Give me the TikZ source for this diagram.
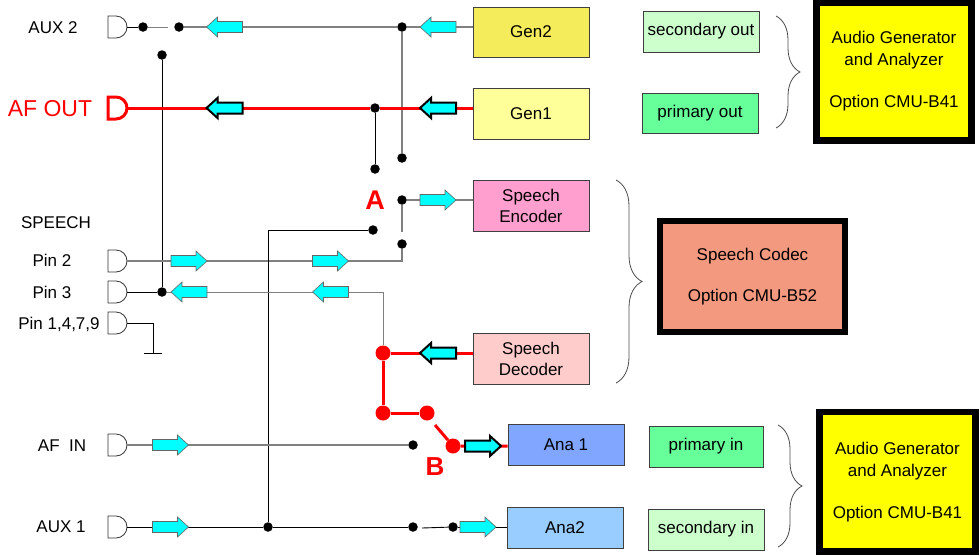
\documentclass[tikz,border=0pt]{standalone}
\usepackage{fontspec}
\setmainfont{Liberation Sans}
\usetikzlibrary{decorations.pathreplacing}

\definecolor{gentwo}{HTML}{F5EC5C}
\definecolor{genone}{HTML}{FFFF99}
\definecolor{secfill}{HTML}{CCFFCC}
\definecolor{primfill}{HTML}{66FF99}
\definecolor{encfill}{HTML}{FF9FCF}
\definecolor{decfill}{HTML}{FFCCCC}
\definecolor{codecfill}{HTML}{F2997F}
\definecolor{anaone}{HTML}{80A6FF}
\definecolor{anatwo}{HTML}{99CCFF}
\definecolor{sigcyan}{RGB}{0,255,255}
\definecolor{optyellow}{RGB}{255,255,0}
\definecolor{signalred}{RGB}{255,0,0}

\NewDocumentCommand{\sigarrow}{mmmO{thinarrow}}{%
\begin{scope}[shift={(#1,#2)},xscale=#3]%
\draw[#4] (-18,-5.5) -- (7,-5.5) -- (7,-10) -- (18,0) -- (7,10) -- (7,5.5) -- (-18,5.5) -- cycle;
\end{scope}%
}
\NewDocumentCommand{\jack}{mmmO{jackline}}{%
\begin{scope}[shift={(#1,#2)}]%
\draw[#4] (8,-11) -- (0,-11) -- (0,11) -- (8,11) arc[start angle=90,end angle=-90,radius=11];
\coordinate (#3) at (19,0);
\end{scope}%
}

\tikzset{
  wire/.style={draw=black,line width=0.9pt},
  graywire/.style={draw=black!50,line width=1.3pt},
  redwire/.style={draw=signalred,line width=3pt},
  dot/.style={circle,fill=black,inner sep=0pt,minimum size=9.5pt},
  reddot/.style={circle,fill=signalred,inner sep=0pt,minimum size=15pt},
  unit/.style={draw=black!75,line width=0.8pt,minimum width=116pt,minimum height=50pt,
    align=center,inner sep=0pt,font=\fontsize{17}{21}\selectfont},
  tag/.style={unit,minimum height=41pt},
  option/.style={draw=black,line width=6.5pt,align=center,inner sep=0pt,
    font=\fontsize{17}{22}\selectfont},
  thinarrow/.style={draw=black!60,line width=0.6pt,fill=sigcyan},
  thickarrow/.style={draw=black,line width=2pt,fill=sigcyan},
  jackline/.style={draw=black!80,line width=0.8pt},
  redjack/.style={draw=signalred,line width=3pt},
  pinlabel/.style={font=\fontsize{17}{20}\selectfont},
  swlabel/.style={text=signalred,font=\bfseries\fontsize{27}{30}\selectfont},
  optbrace/.style={draw=black!70,line width=0.8pt,decorate,decoration={brace,amplitude=24pt}},
}

\begin{document}
\begin{tikzpicture}[x=1pt,y=-1pt]
\useasboundingbox (0,0) rectangle (980,555);

% generator, codec and analyzer units
\node[unit,fill=gentwo] (Gen2) at (531,32) {Gen2};
\node[unit,fill=genone,minimum height=51pt] (Gen1) at (531,113.5) {Gen1};
\node[unit,fill=encfill,minimum height=51pt] (Enc) at (531,205.5) {Speech\\Encoder};
\node[unit,fill=decfill,minimum height=51pt] (Dec) at (531,358.5) {Speech\\Decoder};
\node[tag,fill=anaone] (Ana1) at (566,444.5) {Ana 1};
\node[tag,fill=anatwo] (Ana2) at (565,527.5) {Ana2};

\node[tag,fill=secfill] (secout) at (701,31.5) {secondary out};
\node[tag,fill=primfill,minimum height=40pt] (primout) at (700,113) {primary out};
\node[tag,fill=primfill,minimum width=114pt] (primin) at (706,446.5) {primary in};
\node[tag,fill=secfill] (secin) at (706,529.5) {secondary in};

\node[option,fill=optyellow,minimum width=155pt,minimum height=138pt] (optgen) at (894,71.5)
  {Audio Generator\\and Analyzer\\[20pt]Option CMU-B41};
\node[option,fill=codecfill,minimum width=185pt,minimum height=111pt] (optcodec) at (752.5,276.5)
  {Speech Codec\\[19pt]Option CMU-B52};
\node[option,fill=optyellow,minimum width=156pt,minimum height=139.5pt] (optana) at (897.5,481.75)
  {Audio Generator\\and Analyzer\\[20pt]Option CMU-B41};

\draw[optbrace] (776,16) -- (776,128);
\draw[optbrace,decoration={amplitude=26pt}] (616,180) -- (616,383);
\draw[optbrace] (778,425) -- (778,547);

% jacks and their labels
\jack{108}{27}{aux2}
\jack{108}{108}{afout}[redjack]
\jack{108}{261}{pintwo}
\jack{108}{292}{pinthree}
\jack{108}{323}{pinground}
\jack{108}{445}{afin}
\jack{108}{527}{auxone}
\node[pinlabel] (laux2) at (53,28) {AUX 2};
\node[text=signalred,font=\fontsize{23}{26}\selectfont] (lafout) at (50,109) {AF OUT};
\node[pinlabel] (lspeech) at (56,223) {SPEECH};
\node[pinlabel] (lpin2) at (52,260) {Pin 2};
\node[pinlabel] (lpin3) at (52,292) {Pin 3};
\node[pinlabel] (lpinx) at (59,324) {Pin 1,4,7,9};
\node[pinlabel] (lafin) at (62,446) {AF\ \ IN};
\node[pinlabel] (laux1) at (61,527) {AUX 1};
\node[swlabel] (swA) at (375,200) {A};
\node[swlabel,font=\bfseries\fontsize{26}{29}\selectfont] (swB) at (435,467) {B};

% switch contacts
\node[dot] (dA2a) at (143,27) {};
\node[dot] (dA2b) at (179,27) {};
\node[dot] (dA2c) at (162,55) {};
\node[dot] (dG2) at (402,27) {};
\node[dot] (dG2b) at (402,158) {};
\node[dot] (dG1) at (375,108) {};
\node[dot] (dG1b) at (375,169) {};
\node[dot] (dEnc) at (402,200) {};
\node[dot] (dSp) at (373,230) {};
\node[dot] (dPin2) at (402,244) {};
\node[dot] (dP3) at (162,292) {};
\node[dot] (dAfin) at (413,445) {};
\node[dot] (dAux1) at (268,527) {};
\node[dot] (dAux1b) at (413,527) {};
\node[dot] (dAna2) at (453,527) {};
\node[reddot] (rDec) at (383,353) {};
\node[reddot] (rB1) at (383,413) {};
\node[reddot] (rB2) at (427,413) {};
\node[reddot] (rAna1) at (453,446) {};
\coordinate (a2lever) at (168,27);
\coordinate (enclever) at (402,232);
\coordinate (blever) at (435,425);
\coordinate (auxlever) at (422,528);
\coordinate (gnd) at (153,353);

% wiring
\draw[wire] (dA2c) -- (dP3);
\draw[wire] (aux2) -- (dA2a);
\draw[graywire,line width=0.9pt] (dA2a) -- (a2lever);
\draw[graywire] (dA2b) -- (dG2) -- (dG2 -| Gen2.west);
\draw[graywire] (dG2) -- (dG2b);
\draw[redwire] (afout) -- (dG1) -- (dG1 -| Gen1.west);
\draw[wire] (dG1) -- (dG1b);
\draw[graywire] (dEnc) -- (dEnc -| Enc.west);
\draw[graywire] (dEnc) -- (enclever);
\draw[graywire] (pintwo) -| (dPin2);
\draw[wire] (dSp) -| (dAux1);
\draw[wire] (pinthree) -- (dP3);
\draw[graywire,line width=1pt] (dP3) -| (rDec);
\draw[wire] (pinground) -| (gnd);
\draw[wire] ([xshift=-9pt]gnd) -- ([xshift=9pt]gnd);
\draw[redwire] (Dec.west |- rDec) -- (rDec) -- (rB1) -- (rB2);
\draw[redwire] (blever) -- (rAna1) -- (rAna1 -| Ana1.west);
\draw[graywire] (afin) -- (dAfin);
\draw[wire] (auxone) -- (dAux1) -- (dAux1b);
\draw[wire] (auxlever) -- (dAna2);
\draw[wire] (dAna2) -- (dAna2 -| Ana2.west);

% signal direction
\sigarrow{224.5}{27}{-1}
\sigarrow{438}{27}{-1}
\sigarrow{224.5}{108}{-1}[thickarrow]
\sigarrow{438}{108}{-1}[thickarrow]
\sigarrow{438}{200}{1}
\foreach \ax in {189,330.5} {
  \sigarrow{\ax}{261}{1}
  \sigarrow{\ax}{292}{-1}
}
\sigarrow{438}{353}{-1}[thickarrow]
\sigarrow{483}{446}{1}[thickarrow]
\sigarrow{170.5}{445}{1}
\sigarrow{170.5}{527}{1}
\sigarrow{478}{527}{1}
\end{tikzpicture}
\end{document}
